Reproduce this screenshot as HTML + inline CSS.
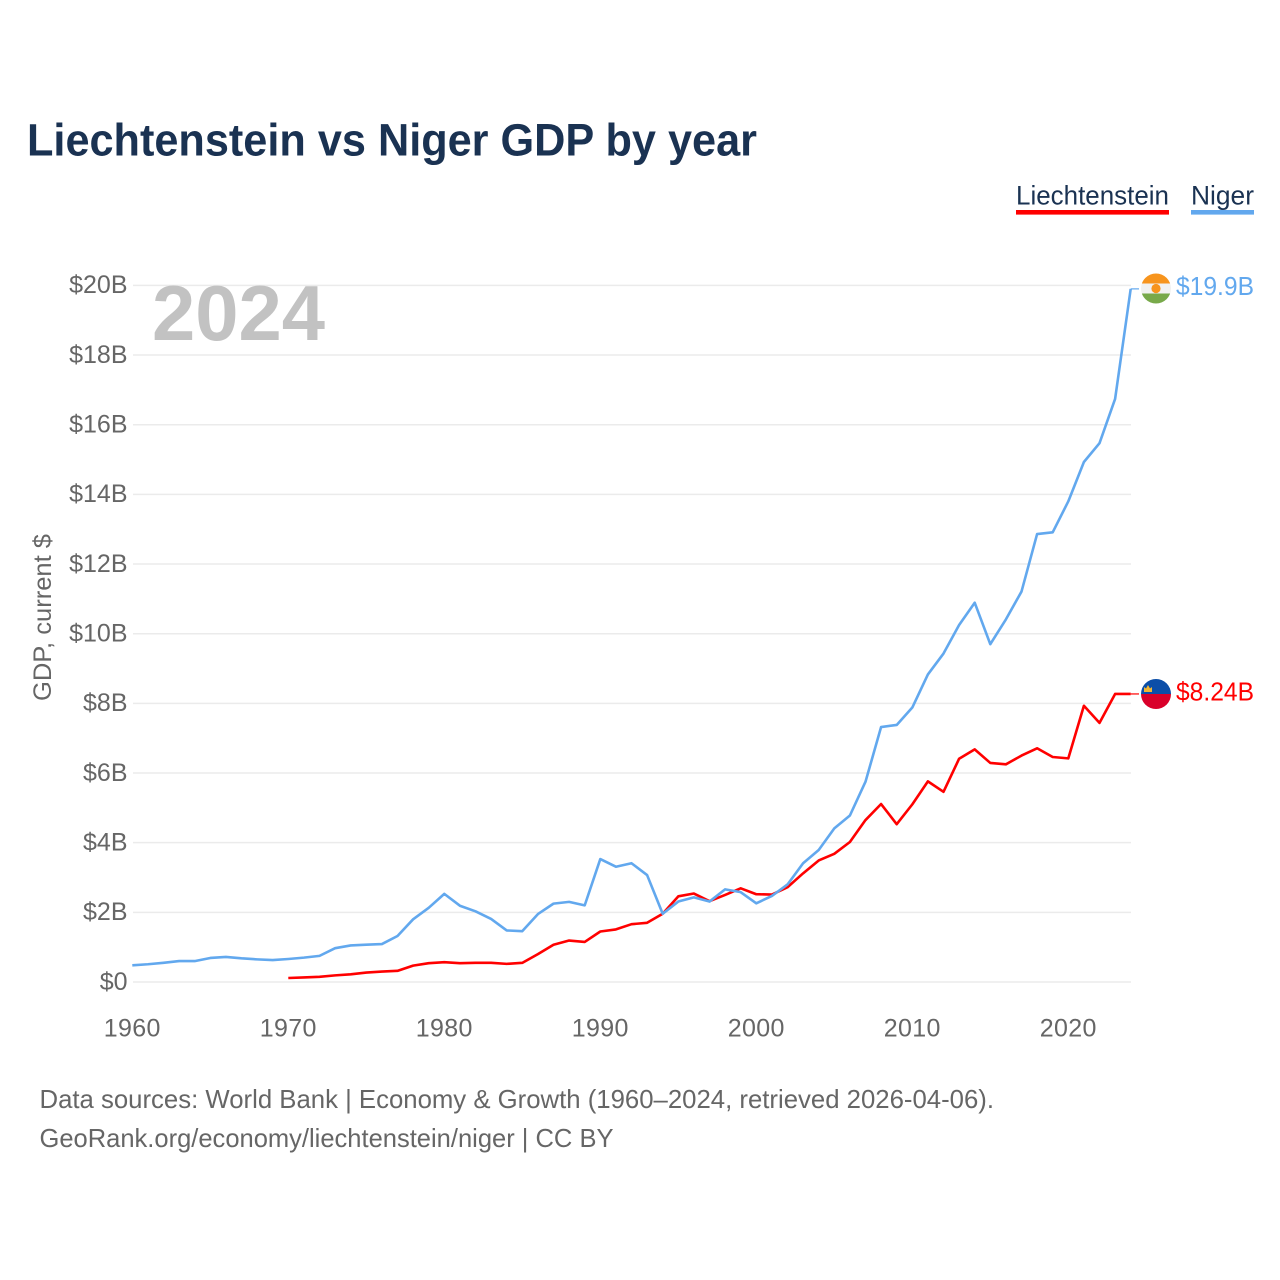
<!DOCTYPE html>
<html lang="en">
<head>
<meta charset="utf-8">
<title>Liechtenstein vs Niger GDP by year</title>
<style>
html,body{margin:0;padding:0;background:#fff}
svg{display:block;font-family:"Liberation Sans",sans-serif}
</style>
</head>
<body>
<svg id="chart" xmlns="http://www.w3.org/2000/svg" width="1280" height="1280" viewBox="0 0 1280 1280">
  <rect x="0" y="0" width="1280" height="1280" fill="#fff"/>
  <text x="27" y="155.5" font-size="45" font-weight="700" fill="#1a3252" textLength="730" lengthAdjust="spacingAndGlyphs">Liechtenstein vs Niger GDP by year</text>

  <g>
    <g>
      <text x="1016" y="204.5" font-size="26.5" fill="#1a3252" textLength="153" lengthAdjust="spacingAndGlyphs">Liechtenstein</text>
      <rect x="1016" y="210" width="153" height="4.6" fill="#ff0000"/>
    </g>
    <g>
      <text x="1191" y="204.5" font-size="26.5" fill="#1a3252" textLength="63" lengthAdjust="spacingAndGlyphs">Niger</text>
      <rect x="1191" y="210" width="63" height="4.6" fill="#62a8ee"/>
    </g>
  </g>

  <g id="grid"></g>
  <g id="yticks"></g>
  <g id="xticks"></g>

  <text x="152" y="340" font-size="78" font-weight="700" fill="#c2c2c2" textLength="173" lengthAdjust="spacingAndGlyphs">2024</text>
  <text transform="translate(51,701) rotate(-90)" x="0" y="0" font-size="25" fill="#666" textLength="167" lengthAdjust="spacingAndGlyphs">GDP, current $</text>

  <g id="series"></g>

  <defs>
    <clipPath id="clip-ne"><circle cx="1156" cy="288.5" r="15"/></clipPath>
    <clipPath id="clip-li"><circle cx="1156" cy="694" r="15"/></clipPath>
  </defs>
  <g clip-path="url(#clip-ne)">
    <rect x="1141" y="273.5" width="30" height="10" fill="#f7941d"/>
    <rect x="1141" y="283.5" width="30" height="10" fill="#f1f1f1"/>
    <rect x="1141" y="293.5" width="30" height="10" fill="#78a94a"/>
    <circle cx="1156" cy="288.5" r="4.6" fill="#f7941d"/>
  </g>
  <g clip-path="url(#clip-li)">
    <rect x="1141" y="679" width="30" height="15" fill="#0b4ea8"/>
    <rect x="1141" y="694" width="30" height="15" fill="#d9002a"/>
    <path d="M1144 692 v-5 l2 1.5 2-3.5 2 3.5 2-1.5 v5 z" fill="#f2b632"/>
  </g>
  <text id="value-niger" x="1176" y="295" font-size="25.5" fill="#62a8ee" textLength="78" lengthAdjust="spacingAndGlyphs">$19.9B</text>
  <text id="value-li" x="1176" y="700.5" font-size="25.5" fill="#ff0000" textLength="78" lengthAdjust="spacingAndGlyphs">$8.24B</text>

  <g font-size="26" fill="#666">
    <text x="39.5" y="1108" textLength="954.5" lengthAdjust="spacingAndGlyphs">Data sources: World Bank | Economy &amp; Growth (1960–2024, retrieved 2026-04-06).</text>
    <text x="39.5" y="1147" textLength="574" lengthAdjust="spacingAndGlyphs">GeoRank.org/economy/liechtenstein/niger | CC BY</text>
  </g>
</svg>
<script>
const startYear = 1960;
const endYear = 2024;
const yTickValues = [0, 2, 4, 6, 8, 10, 12, 14, 16, 18, 20];
const yTickLabels = ["$0", "$2B", "$4B", "$6B", "$8B", "$10B", "$12B", "$14B", "$16B", "$18B", "$20B"];
const xTickYears = [1960, 1970, 1980, 1990, 2000, 2010, 2020];
const xTickLabels = ["1960", "1970", "1980", "1990", "2000", "2010", "2020"];
const nigerGdp = [0.48, 0.51, 0.55, 0.60, 0.60, 0.69, 0.72, 0.68, 0.65, 0.63, 0.66, 0.70, 0.75, 0.97, 1.05, 1.07, 1.09, 1.32, 1.80, 2.13, 2.53, 2.19, 2.03, 1.81, 1.48, 1.46, 1.95, 2.25, 2.30, 2.20, 3.53, 3.31, 3.41, 3.07, 1.96, 2.31, 2.43, 2.31, 2.66, 2.58, 2.26, 2.47, 2.80, 3.41, 3.79, 4.41, 4.78, 5.75, 7.32, 7.38, 7.88, 8.83, 9.43, 10.25, 10.89, 9.70, 10.41, 11.21, 12.86, 12.91, 13.80, 14.93, 15.47, 16.74, 19.90];
const liechtensteinYears = [1970, 1971, 1972, 1973, 1974, 1975, 1976, 1977, 1978, 1979, 1980, 1981, 1982, 1983, 1984, 1985, 1986, 1987, 1988, 1989, 1990, 1991, 1992, 1993, 1994, 1995, 1996, 1997, 1998, 1999, 2000, 2001, 2002, 2003, 2004, 2005, 2006, 2007, 2008, 2009, 2010, 2011, 2012, 2013, 2014, 2015, 2016, 2017, 2018, 2019, 2020, 2021, 2022, 2023, 2024];
const liechtensteinGdp = [0.115, 0.13, 0.15, 0.19, 0.22, 0.27, 0.30, 0.32, 0.47, 0.54, 0.57, 0.54, 0.55, 0.55, 0.52, 0.55, 0.80, 1.07, 1.19, 1.15, 1.45, 1.51, 1.66, 1.70, 1.96, 2.46, 2.54, 2.32, 2.50, 2.69, 2.52, 2.51, 2.72, 3.12, 3.49, 3.68, 4.02, 4.65, 5.11, 4.53, 5.10, 5.76, 5.46, 6.41, 6.68, 6.29, 6.25, 6.50, 6.71, 6.46, 6.42, 7.93, 7.44, 8.27, 8.27];

const SVG_NS = "http://www.w3.org/2000/svg";
const xScale = function (year) { return 132.3 + (year - 1960) * 15.6; };
const yScale = function (v) { return 982 - v * 34.83; };

const grid = document.getElementById("grid");
const yticks = document.getElementById("yticks");
const xticks = document.getElementById("xticks");
const series = document.getElementById("series");

yTickValues.forEach(function (v, i) {
  const line = document.createElementNS(SVG_NS, "line");
  
  
  line.setAttribute("x1", 133);
  line.setAttribute("x2", 1131);
  line.setAttribute("y1", yScale(v));
  line.setAttribute("y2", yScale(v));
  line.setAttribute("stroke", "#ebebeb");
  line.setAttribute("stroke-width", 1.5);
  grid.appendChild(line);

  const label = document.createElementNS(SVG_NS, "text");
  
  
  label.setAttribute("x", 127.5);
  label.setAttribute("y", yScale(v) + 7.8);
  label.setAttribute("text-anchor", "end");
  label.setAttribute("font-size", 25);
  label.setAttribute("fill", "#666");
  label.textContent = yTickLabels[i];
  yticks.appendChild(label);
});

xTickYears.forEach(function (year, i) {
  const label = document.createElementNS(SVG_NS, "text");
  
  
  label.setAttribute("x", xScale(year));
  label.setAttribute("y", 1036.3);
  label.setAttribute("text-anchor", "middle");
  label.setAttribute("font-size", 25);
  label.setAttribute("letter-spacing", 0.35);
  label.setAttribute("fill", "#666");
  label.textContent = xTickLabels[i];
  xticks.appendChild(label);
});

function pathFrom(years, values) {
  return values.map(function (v, i) {
    return (i ? "L" : "M") + xScale(years[i]).toFixed(2) + " " + yScale(v).toFixed(2);
  }).join(" ");
}

const nigerYears = nigerGdp.map(function (_, i) { return startYear + i; });

const liLine = document.createElementNS(SVG_NS, "path");


liLine.setAttribute("d", pathFrom(liechtensteinYears, liechtensteinGdp));
liLine.setAttribute("fill", "none");
liLine.setAttribute("stroke", "#ff0000");
liLine.setAttribute("stroke-width", 2.6);
liLine.setAttribute("stroke-linejoin", "round");
series.appendChild(liLine);

const neLine = document.createElementNS(SVG_NS, "path");


neLine.setAttribute("d", pathFrom(nigerYears, nigerGdp));
neLine.setAttribute("fill", "none");
neLine.setAttribute("stroke", "#62a8ee");
neLine.setAttribute("stroke-width", 2.6);
neLine.setAttribute("stroke-linejoin", "round");
series.appendChild(neLine);

const liLeader = document.createElementNS(SVG_NS, "line");


liLeader.setAttribute("x1", xScale(endYear));
liLeader.setAttribute("x2", 1139);
liLeader.setAttribute("y1", yScale(liechtensteinGdp[liechtensteinGdp.length - 1]));
liLeader.setAttribute("y2", yScale(liechtensteinGdp[liechtensteinGdp.length - 1]));
liLeader.setAttribute("stroke", "#ff0000");
liLeader.setAttribute("stroke-width", 1.2);
series.appendChild(liLeader);

const neLeader = document.createElementNS(SVG_NS, "line");


neLeader.setAttribute("x1", xScale(endYear));
neLeader.setAttribute("x2", 1139);
neLeader.setAttribute("y1", yScale(nigerGdp[nigerGdp.length - 1]));
neLeader.setAttribute("y2", yScale(nigerGdp[nigerGdp.length - 1]));
neLeader.setAttribute("stroke", "#62a8ee");
neLeader.setAttribute("stroke-width", 1.2);
series.appendChild(neLeader);
</script>
</body>
</html>
